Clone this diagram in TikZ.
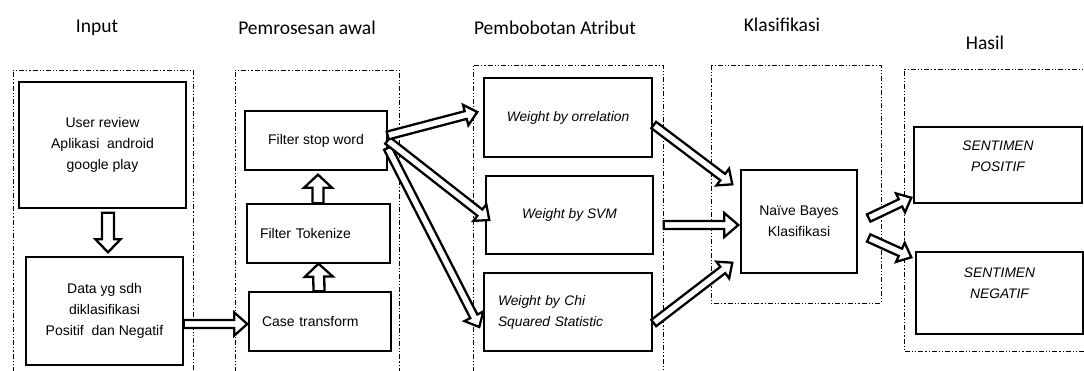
\documentclass[tikz,border=0pt]{standalone}
\usepackage{fontspec}
\setmainfont{Liberation Sans}
\newfontfamily\titlefont{Carlito}
\usepackage{tikz}
\usetikzlibrary{calc}
\tikzset{
	box node/.style={rectangle,draw,line width=1.4pt,font=\fontsize{14}{21}\selectfont,align=center,inner sep=0pt},
	left box/.style={box node,align=left,inner xsep=13pt},
	slanted text/.style={font=\fontsize{13.8}{21}\selectfont\itshape},
	title node/.style={font=\titlefont\fontsize{19.5}{22}\selectfont},
	group frame/.style={line width=1pt,dash pattern=on 5pt off 2pt on 1.2pt off 2pt on 1.2pt off 2pt},
	block arrow/.style={draw,fill=white,line width=2.3pt,line join=miter}
}
% block arrow: start, end, half shaft, half head, head length
\newcommand{\blok}[5]{
	\coordinate (tmp) at ($(#2)!#5!(#1)$);
	\draw[block arrow] ($(#1)!#3!90:(#2)$) -- ($(tmp)!#3!90:(#2)$) -- ($(tmp)!#4!90:(#2)$) -- (#2)
		-- ($(tmp)!#4!-90:(#2)$) -- ($(tmp)!#3!-90:(#2)$) -- ($(#1)!#3!-90:(#2)$) -- cycle;
}
\begin{document}
\begin{tikzpicture}[x=1pt,y=-1pt]
	\useasboundingbox (0,0) rectangle (1084,370);
	% titles
	\node [title node] (tinput) at (97,28) {Input};
	\node [title node] (tpre) at (307,28) {Pemrosesan awal};
	\node [title node] (tweight) at (555,28) {Pembobotan Atribut};
	\node [title node] (tclass) at (782,25) {Klasifikasi};
	\node [title node] (tresult) at (985,43) {Hasil};
	% frames
	\draw [group frame] (13,372) -- (13,70) -- (193,70) -- (193,372);
	\draw [group frame] (235,372) -- (235,70) -- (399,70) -- (399,372);
	\draw [group frame] (473,372) -- (473,65) -- (663,65) -- (663,372);
	\draw [group frame] (711,65) rectangle (881,303);
	\draw [group frame] (1090,69) -- (904,69) -- (904,351) -- (1090,351);
	% boxes
	\node [box node,minimum width=167pt,minimum height=126pt] (review) at (102.5,145) {User review\\Aplikasi\ \ android\\google play};
	\node [box node,minimum width=157pt,minimum height=108pt] (data) at (104.5,311) {Data yg sdh\\diklasifikasi\\Positif\ \ dan Negatif};
	\node [box node,minimum width=142pt,minimum height=59pt] (stop) at (316,140.5) {Filter stop word};
	\node [left box,text width=117pt,minimum height=59pt] (token) at (318.5,233.5) {Filter Tokenize};
	\node [left box,text width=116pt,minimum height=59pt] (case) at (320,321.5) {Case transform};
	\node [box node,slanted text,minimum width=168pt,minimum height=79pt] (corr) at (568,117.5) {Weight by orrelation};
	\node [box node,slanted text,minimum width=167pt,minimum height=78pt] (svm) at (569.5,215) {Weight by SVM};
	\node [left box,slanted text,inner xsep=14pt,text width=140pt,minimum height=78pt] (chi) at (568,312) {Weight by Chi\\Squared Statistic};
	\node [box node,minimum width=116pt,minimum height=103pt] (nb) at (799,221.5) {Naïve Bayes\\Klasifikasi};
	\node [box node,minimum width=168pt,minimum height=76pt,label={[slanted text,align=center,yshift=8.5pt]center:SENTIMEN\\POSITIF}] (pos) at (998,165) {};
	\node [box node,minimum width=167pt,minimum height=82pt,label={[slanted text,align=center,yshift=10pt]center:SENTIMEN\\NEGATIF}] (neg) at (999.5,293) {};
	% arrows
	\blok{[xshift=5.5pt,yshift=-4pt]review.south}{[xshift=3.5pt,yshift=4pt]data.north}{6pt}{12.5pt}{13pt}
	\blok{[yshift=-13pt]data.east}{[xshift=-1pt,yshift=-2.5pt]case.west}{4pt}{11.5pt}{13pt}
	\blok{[xshift=-1pt]case.north}{token.south}{5.5pt}{14pt}{13pt}
	\blok{[xshift=-0.5pt]token.north}{[xshift=2pt,yshift=-4pt]stop.south}{5.5pt}{14pt}{13pt}
	\blok{[yshift=-7.5pt]stop.east}{[xshift=-4pt,yshift=-15pt]chi.west}{4pt}{10.5pt}{12pt}
	\blok{stop.east}{[xshift=4pt,yshift=-5pt]svm.west}{4pt}{10.5pt}{12pt}
	\blok{[yshift=5pt]stop.east}{[xshift=-6pt,yshift=5.5pt]corr.west}{4pt}{10.5pt}{12pt}
	\blok{[xshift=1pt,yshift=-7.5pt]corr.east}{[xshift=-8pt,yshift=-15pt]nb.north west}{4pt}{10.5pt}{12pt}
	\blok{[xshift=10pt,yshift=-10pt]svm.east}{[xshift=-2pt,yshift=-3.5pt]nb.west}{4pt}{12pt}{14pt}
	\blok{[xshift=1pt,yshift=-11pt]chi.east}{[xshift=-8pt,yshift=11pt]nb.south west}{4pt}{10.5pt}{12pt}
	\blok{[xshift=11pt,yshift=3.5pt]nb.east}{[xshift=-2pt,yshift=6pt]pos.south west}{4pt}{10.5pt}{12pt}
	\blok{[xshift=11pt,yshift=-16.5pt]nb.east}{[xshift=-4pt,yshift=-6pt]neg.north west}{4pt}{10.5pt}{12pt}
\end{tikzpicture}
\end{document}
